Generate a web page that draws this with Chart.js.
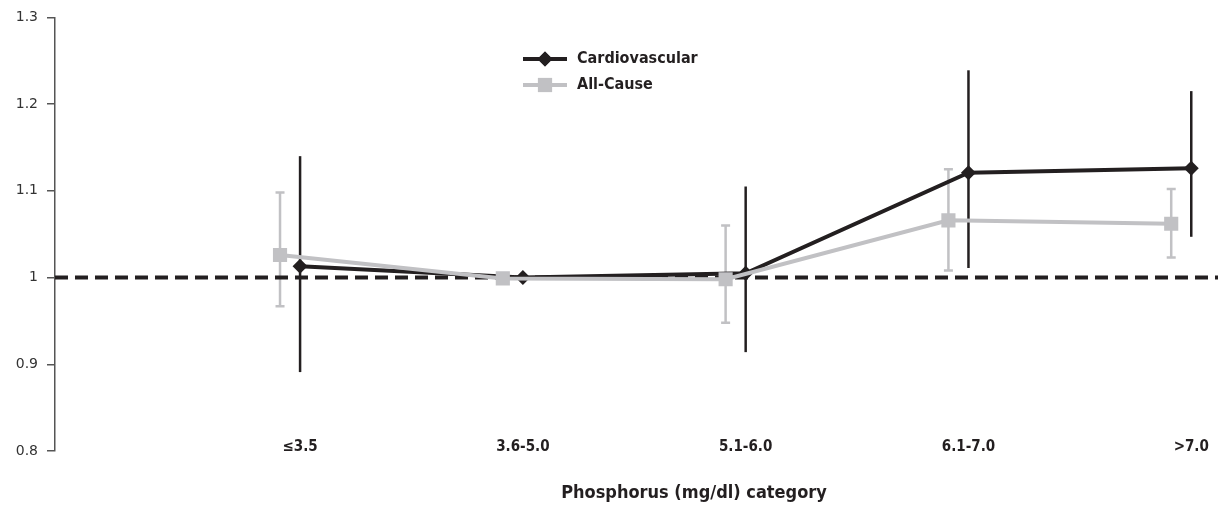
<!DOCTYPE html>
<html>
<head>
<meta charset="utf-8">
<script src="https://cdn.jsdelivr.net/npm/chart.js@4/dist/chart.umd.min.js"></script>
<style>
  html, body { margin: 0; padding: 0; background: #fff; }
  #wrap { width: 1218px; height: 505px; position: relative; }
</style>
</head>
<body>
<div id="wrap"><canvas id="phosChart"></canvas></div>
<script>
// categorias de fosforo y hazard ratios
const categories = ['≤3.5', '3.6-5.0', '5.1-6.0', '6.1-7.0', '>7.0'];
const cardioHR = [1.013, 1.000, 1.005, 1.121, 1.126];
const cardioLow = [0.891, null, 0.914, 1.011, 1.047];
const cardioHigh = [1.140, null, 1.105, 1.239, 1.215];
const allCauseHR = [1.026, 0.999, 0.998, 1.066, 1.062];
const allCauseLow = [0.967, null, 0.948, 1.008, 1.023];
const allCauseHigh = [1.098, null, 1.060, 1.125, 1.102];
const yTicks = [0.8, 0.9, 1, 1.1, 1.2, 1.3];
const referenceHR = [1, 1];
const xTitle = 'Phosphorus (mg/dl) category';

const BLACK = '#231f20';
const GREY = '#c1c1c4';
const NARROW = "'Liberation Sans Narrow', 'DejaVu Sans Condensed', sans-serif";
const xMin = -0.1, xMax = 5.12;
const allCauseShift = -0.09; // la serie gris va un poco a la izquierda

const cardioPoints = cardioHR.map((v, i) => ({ x: i + 1, y: v }));
const allCausePoints = allCauseHR.map((v, i) => ({ x: i + 1 + allCauseShift, y: v }));
const refPoints = referenceHR.map((v, i) => ({ x: i === 0 ? xMin : xMax, y: v }));

// barras de error dibujadas con las escalas del grafico
const errorBars = {
    id: 'errorBars',
    beforeDatasetsDraw(chart) {
        const { ctx, scales: { x, y } } = chart;
        const sets = [
            { pts: cardioPoints, lo: cardioLow, hi: cardioHigh, color: BLACK, cap: 0 },
            { pts: allCausePoints, lo: allCauseLow, hi: allCauseHigh, color: GREY, cap: 4.5 }
        ];
        ctx.save();
        sets.forEach(s => {
            ctx.strokeStyle = s.color;
            ctx.lineWidth = 2.5;
            s.pts.forEach((p, i) => {
                if (s.lo[i] == null) return;
                const px = x.getPixelForValue(p.x);
                const y1 = y.getPixelForValue(s.lo[i]);
                const y2 = y.getPixelForValue(s.hi[i]);
                ctx.beginPath();
                ctx.moveTo(px, y1);
                ctx.lineTo(px, y2);
                if (s.cap) {
                    ctx.moveTo(px - s.cap, y1);
                    ctx.lineTo(px + s.cap, y1);
                    ctx.moveTo(px - s.cap, y2);
                    ctx.lineTo(px + s.cap, y2);
                }
                ctx.stroke();
            });
        });
        ctx.restore();
    }
};

// leyenda a mano (linea + marcador) y titulo del eje x
const customLegend = {
    id: 'customLegend',
    afterDraw(chart) {
        const ctx = chart.ctx;
        const items = [
            { text: 'Cardiovascular', color: BLACK, style: 'rectRot', r: 7.5, y: 59 },
            { text: 'All-Cause', color: GREY, style: 'rect', r: 10, y: 85 }
        ];
        ctx.save();
        items.forEach(it => {
            ctx.strokeStyle = it.color;
            ctx.lineWidth = 4;
            ctx.beginPath();
            ctx.moveTo(523, it.y);
            ctx.lineTo(567, it.y);
            ctx.stroke();
            ctx.fillStyle = it.color;
            Chart.helpers.drawPoint(ctx, { pointStyle: it.style, radius: it.r, borderWidth: 0 }, 545, it.y);
            ctx.fill();
            ctx.fillStyle = BLACK;
            ctx.font = 'bold 16px ' + NARROW;
            ctx.textBaseline = 'middle';
            ctx.textAlign = 'left';
            ctx.fillText(it.text, 577, it.y);
        });
        ctx.font = 'bold 18px ' + NARROW;
        ctx.textAlign = 'center';
        ctx.textBaseline = 'middle';
        ctx.fillText(xTitle, 694, 493);
        ctx.restore();
    }
};

new Chart(document.getElementById('phosChart'), {
    type: 'line',
    data: {
        datasets: [{
            label: 'ref',
            data: refPoints,
            borderColor: BLACK,
            borderWidth: 4,
            borderDash: [13, 7],
            pointRadius: 0,
            order: 3
        }, {
            label: 'Cardiovascular',
            data: cardioPoints,
            borderColor: BLACK,
            backgroundColor: BLACK,
            borderWidth: 4,
            pointStyle: 'rectRot',
            pointRadius: 7.5,
            pointBorderWidth: 0,
            order: 2
        }, {
            label: 'All-Cause',
            data: allCausePoints,
            borderColor: GREY,
            backgroundColor: GREY,
            borderWidth: 4,
            pointStyle: 'rect',
            pointRadius: 10,
            pointBorderWidth: 0,
            order: 1
        }]
    },
    options: {
        responsive: true,
        maintainAspectRatio: false,
        animation: false,
        layout: { autoPadding: false, padding: { top: 16, right: 0, bottom: 0, left: 0 } },
        plugins: {
            legend: { display: false },
            tooltip: { enabled: false }
        },
        scales: {
            x: {
                type: 'linear',
                min: xMin,
                max: xMax,
                afterBuildTicks: scale => { scale.ticks = categories.map((c, i) => ({ value: i + 1 })); },
                afterFit: scale => { scale.height = 54; },
                grid: { display: false },
                border: { display: false },
                ticks: {
                    mirror: true,
                    padding: -5,
                    maxRotation: 0,
                    autoSkip: false,
                    color: BLACK,
                    font: { family: NARROW, size: 15, weight: 'bold' },
                    callback: v => categories[v - 1]
                }
            },
            y: {
                min: 0.8,
                max: 1.3,
                afterBuildTicks: scale => { scale.ticks = yTicks.map(v => ({ value: v })); },
                afterFit: scale => { scale.width = 55; },
                grid: {
                    drawOnChartArea: false,
                    drawTicks: true,
                    tickLength: 8,
                    color: '#555',
                    lineWidth: 1.5
                },
                border: { display: true, color: '#555', width: 1.5 },
                ticks: {
                    padding: 9,
                    color: '#333',
                    font: { family: "'DejaVu Sans', sans-serif", size: 14 },
                    callback: v => String(parseFloat(v.toFixed(1)))
                }
            }
        }
    },
    plugins: [errorBars, customLegend]
});
</script>
</body>
</html>
